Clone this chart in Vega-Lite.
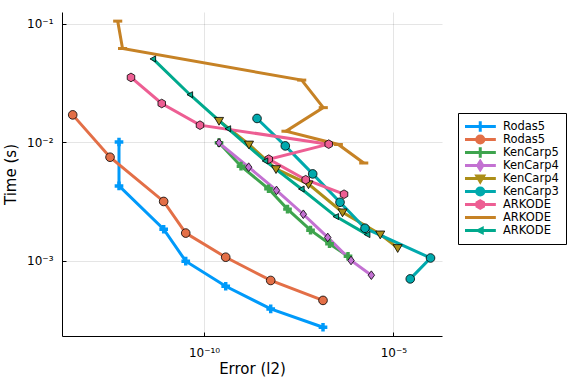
{
  "$schema": "https://vega.github.io/schema/vega-lite/v6.json",
  "width": 380,
  "height": 324,
  "autosize": {"type": "none"},
  "padding": {"left": 62, "top": 12, "right": 134, "bottom": 48},
  "background": "white",
  "config": {
    "view": {"stroke": null},
    "font": "DejaVu Sans",
    "axis": {
      "labelFont": "DejaVu Sans", "labelFontSize": 12, "labelColor": "#000",
      "titleFont": "DejaVu Sans", "titleFontSize": 15, "titleFontWeight": "normal", "titleColor": "#000",
      "domainColor": "#000", "domainWidth": 1,
      "tickColor": "#000", "tickSize": -4, "tickWidth": 1,
      "gridColor": "#000", "gridOpacity": 0.1, "gridWidth": 1
    }
  },
  "data": {"values": [
    {"series": "1 Rodas5", "i": 1, "err": 5.69e-13, "time": 0.0101},
    {"series": "1 Rodas5", "i": 2, "err": 5.69e-13, "time": 0.0043},
    {"series": "1 Rodas5", "i": 3, "err": 8.6e-12, "time": 0.001854},
    {"series": "1 Rodas5", "i": 4, "err": 3.29e-11, "time": 0.000996},
    {"series": "1 Rodas5", "i": 5, "err": 3.74e-10, "time": 0.000612},
    {"series": "1 Rodas5", "i": 6, "err": 5.77e-9, "time": 0.000394},
    {"series": "1 Rodas5", "i": 7, "err": 1.387e-7, "time": 0.000276},
    {"series": "2 Rodas5", "i": 1, "err": 3.41e-14, "time": 0.0171},
    {"series": "2 Rodas5", "i": 2, "err": 3.30e-13, "time": 0.00751},
    {"series": "2 Rodas5", "i": 3, "err": 8.6e-12, "time": 0.00318},
    {"series": "2 Rodas5", "i": 4, "err": 3.29e-11, "time": 0.00172},
    {"series": "2 Rodas5", "i": 5, "err": 3.74e-10, "time": 0.001076},
    {"series": "2 Rodas5", "i": 6, "err": 5.77e-9, "time": 0.000685},
    {"series": "2 Rodas5", "i": 7, "err": 1.387e-7, "time": 0.000465},
    {"series": "3 KenCarp5", "i": 1, "err": 2.49e-10, "time": 0.00996},
    {"series": "3 KenCarp5", "i": 2, "err": 9.48e-10, "time": 0.00631},
    {"series": "3 KenCarp5", "i": 3, "err": 5.05e-9, "time": 0.00407},
    {"series": "3 KenCarp5", "i": 4, "err": 1.60e-8, "time": 0.00274},
    {"series": "3 KenCarp5", "i": 5, "err": 6.49e-8, "time": 0.00182},
    {"series": "3 KenCarp5", "i": 6, "err": 2.06e-7, "time": 0.00140},
    {"series": "3 KenCarp5", "i": 7, "err": 6.34e-7, "time": 0.001096},
    {"series": "4 KenCarp4", "i": 1, "err": 2.49e-10, "time": 0.00993},
    {"series": "4 KenCarp4", "i": 2, "err": 1.51e-9, "time": 0.00619},
    {"series": "4 KenCarp4", "i": 3, "err": 8.20e-9, "time": 0.00394},
    {"series": "4 KenCarp4", "i": 4, "err": 4.19e-8, "time": 0.00248},
    {"series": "4 KenCarp4", "i": 5, "err": 1.85e-7, "time": 0.00158},
    {"series": "4 KenCarp4", "i": 6, "err": 7.62e-7, "time": 0.00101},
    {"series": "4 KenCarp4", "i": 7, "err": 2.62e-6, "time": 0.000759},
    {"series": "5 KenCarp4", "i": 1, "err": 2.49e-10, "time": 0.01528},
    {"series": "5 KenCarp4", "i": 2, "err": 1.54e-9, "time": 0.00964},
    {"series": "5 KenCarp4", "i": 3, "err": 7.96e-9, "time": 0.00598},
    {"series": "5 KenCarp4", "i": 4, "err": 5.74e-8, "time": 0.00445},
    {"series": "5 KenCarp4", "i": 5, "err": 4.54e-7, "time": 0.00258},
    {"series": "5 KenCarp4", "i": 6, "err": 4.50e-6, "time": 0.00168},
    {"series": "5 KenCarp4", "i": 7, "err": 1.30e-5, "time": 0.00129},
    {"series": "6 KenCarp3", "i": 1, "err": 2.51e-9, "time": 0.01595},
    {"series": "6 KenCarp3", "i": 2, "err": 1.40e-8, "time": 0.00936},
    {"series": "6 KenCarp3", "i": 3, "err": 7.41e-8, "time": 0.00543},
    {"series": "6 KenCarp3", "i": 4, "err": 3.90e-7, "time": 0.00313},
    {"series": "6 KenCarp3", "i": 5, "err": 1.78e-6, "time": 0.00189},
    {"series": "6 KenCarp3", "i": 6, "err": 9.57e-5, "time": 0.00106},
    {"series": "6 KenCarp3", "i": 7, "err": 2.79e-5, "time": 0.000706},
    {"series": "7 ARKODE", "i": 1, "err": 1.18e-12, "time": 0.0354},
    {"series": "7 ARKODE", "i": 2, "err": 7.64e-12, "time": 0.02133},
    {"series": "7 ARKODE", "i": 3, "err": 7.83e-11, "time": 0.0140},
    {"series": "7 ARKODE", "i": 4, "err": 1.96e-7, "time": 0.00968},
    {"series": "7 ARKODE", "i": 5, "err": 5.11e-9, "time": 0.00723},
    {"series": "7 ARKODE", "i": 6, "err": 4.85e-8, "time": 0.00485},
    {"series": "7 ARKODE", "i": 7, "err": 4.98e-7, "time": 0.00366},
    {"series": "8 ARKODE", "i": 1, "err": 5.26e-13, "time": 0.1057},
    {"series": "8 ARKODE", "i": 2, "err": 7.05e-13, "time": 0.0621},
    {"series": "8 ARKODE", "i": 3, "err": 3.80e-8, "time": 0.0336},
    {"series": "8 ARKODE", "i": 4, "err": 1.41e-7, "time": 0.01968},
    {"series": "8 ARKODE", "i": 5, "err": 1.46e-8, "time": 0.01245},
    {"series": "8 ARKODE", "i": 6, "err": 3.52e-7, "time": 0.00962},
    {"series": "8 ARKODE", "i": 7, "err": 1.65e-6, "time": 0.00671},
    {"series": "9 ARKODE", "i": 1, "err": 4.50e-12, "time": 0.0507},
    {"series": "9 ARKODE", "i": 2, "err": 4.27e-11, "time": 0.0253},
    {"series": "9 ARKODE", "i": 3, "err": 4.31e-10, "time": 0.01306},
    {"series": "9 ARKODE", "i": 4, "err": 4.13e-9, "time": 0.00699},
    {"series": "9 ARKODE", "i": 5, "err": 3.76e-8, "time": 0.00405},
    {"series": "9 ARKODE", "i": 6, "err": 3.06e-7, "time": 0.00237},
    {"series": "9 ARKODE", "i": 7, "err": 2.05e-6, "time": 0.00167}
  ]},
  "encoding": {
    "x": {
      "field": "err", "type": "quantitative", "title": "Error (l2)",
      "scale": {"type": "log", "domain": [1.778e-14, 1.923e-4]},
      "axis": {
        "values": [1e-10, 1e-5], "titlePadding": 3, "labelPadding": 15,
        "labelExpr": "'10' + (round(log(datum.value)/LN10) == -10 ? '⁻¹⁰' : round(log(datum.value)/LN10) == -5 ? '⁻⁵' : round(log(datum.value)/LN10) == -3 ? '⁻³' : round(log(datum.value)/LN10) == -2 ? '⁻²' : '⁻¹')"
      }
    },
    "y": {
      "field": "time", "type": "quantitative", "title": "Time (s)",
      "scale": {"type": "log", "domain": [2.328e-4, 0.1262]},
      "axis": {
        "values": [0.001, 0.01, 0.1], "titlePadding": 8, "labelPadding": 13,
        "labelExpr": "'10' + (round(log(datum.value)/LN10) == -10 ? '⁻¹⁰' : round(log(datum.value)/LN10) == -5 ? '⁻⁵' : round(log(datum.value)/LN10) == -3 ? '⁻³' : round(log(datum.value)/LN10) == -2 ? '⁻²' : '⁻¹')"
      }
    }
  },
  "layer": [
    {
      "mark": {"type": "line", "strokeWidth": 3},
      "encoding": {
        "order": {"field": "i", "type": "quantitative"},
        "color": {
          "field": "series", "type": "nominal",
          "scale": {
            "domain": ["1 Rodas5", "2 Rodas5", "3 KenCarp5", "4 KenCarp4", "5 KenCarp4", "6 KenCarp3", "7 ARKODE", "8 ARKODE", "9 ARKODE"],
            "range": ["#009AFA", "#E36F47", "#3EA44E", "#C371D2", "#AC8E18", "#00A9AD", "#ED5E93", "#C68225", "#00A98D"]
          },
          "legend": {
            "title": null, "orient": "none", "legendX": 396, "legendY": 101,
            "padding": 7, "strokeColor": "#000", "fillColor": "#fff",
            "symbolSize": 64, "symbolStrokeWidth": 3, "symbolOffset": 9.5, "labelOffset": 17,
            "rowPadding": 0, "clipHeight": 13, "labelFontSize": 11.5, "labelFont": "DejaVu Sans", "labelColor": "#000",
            "labelExpr": "substring(datum.label, 2)",
            "encode": {
              "symbols": {
                "update": {
                  "shape": {"signal": "datum.value == '1 Rodas5' || datum.value == '3 KenCarp5' ? 'M-3.9,0H3.9M0,-1.3V1.3' : datum.value == '2 Rodas5' || datum.value == '6 KenCarp3' ? 'M-3.9,0H3.9M0.9,0A0.9,0.9,0,1,1,-0.9,0A0.9,0.9,0,1,1,0.9,0Z' : datum.value == '4 KenCarp4' ? 'M-3.9,0H3.9M0,-1.05L0.65,0L0,1.05L-0.65,0Z' : datum.value == '5 KenCarp4' ? 'M-3.9,0H3.9M-0.85,-0.6L0.85,-0.6L0,0.85Z' : datum.value == '7 ARKODE' ? 'M-3.9,0H3.9M0,-0.95L0.82,-0.48L0.82,0.48L0,0.95L-0.82,0.48L-0.82,-0.48Z' : datum.value == '9 ARKODE' ? 'M-3.9,0H3.9M-0.55,0L0.5,-0.5L0.5,0.5Z' : 'M-3.9,0H3.9'"},
                  "fill": {"scale": "color", "field": "value"},
                  "stroke": {"scale": "color", "field": "value"},
                  "strokeWidth": {"value": 3},
                  "size": {"value": 64},
                  "opacity": {"value": 1}
                }
              }
            }
          }
        }
      }
    },
    {
      "mark": {"type": "point", "filled": true, "size": 75, "opacity": 1},
      "encoding": {
        "fill": {
          "field": "series", "type": "nominal", "legend": null,
          "scale": {
            "range": ["#009AFA", "#E36F47", "#3EA44E", "#C371D2", "#AC8E18", "#00A9AD", "#ED5E93", "#C68225", "#00A98D"]
          }
        },
        "shape": {
          "field": "series", "type": "nominal", "legend": null,
          "scale": {
            "range": ["cross", "circle", "cross", "M0,-1L0.75,0L0,1L-0.75,0Z", "M-1.05,-0.75L1.05,-0.75L0,1.05Z", "circle", "M0,-1L0.866,-0.5L0.866,0.5L0,1L-0.866,0.5L-0.866,-0.5Z", "M-1.05,0L1.05,0", "M-0.7,0L0.6,-0.7L0.6,0.7Z"]
          }
        },
        "stroke": {
          "condition": [
            {"test": "datum.series == '1 Rodas5' || datum.series == '3 KenCarp5'", "value": "transparent"},
            {"test": "datum.series == '8 ARKODE'", "value": "#C68225"}
          ],
          "value": "#000"
        },
        "strokeWidth": {
          "condition": {"test": "datum.series == '8 ARKODE'", "value": 3},
          "value": 0.8
        }
      }
    }
  ]
}
